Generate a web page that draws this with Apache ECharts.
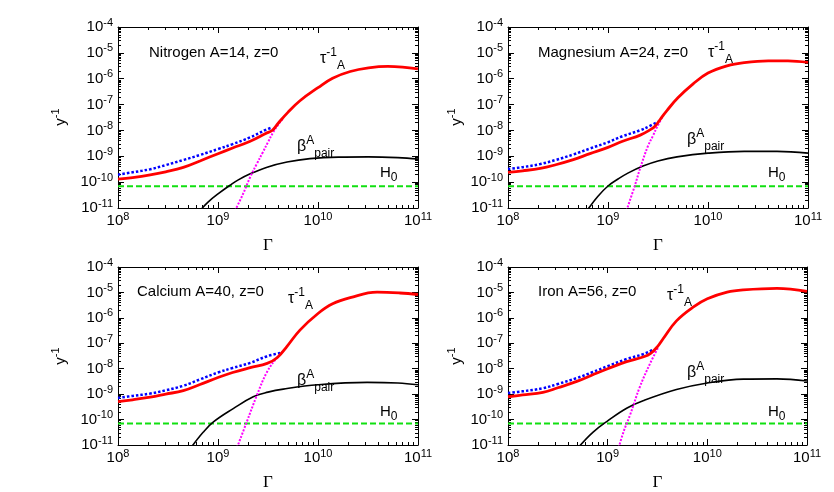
<!DOCTYPE html>
<html>
<head>
<meta charset="utf-8">
<script src="https://cdn.jsdelivr.net/npm/echarts@6/dist/echarts.min.js"></script>
<style>html,body{margin:0;padding:0;background:#fff}#c{width:834px;height:492px}</style>
</head>
<body>
<div id="c"></div>
<script>
// ---------------- data ----------------
const gammaMin = 1e8, gammaMax = 1e11;
const rateMin = 1e-11, rateMax = 1e-4;
const hubbleRate = 7e-11;                      // H0 in y^-1
const minorMultipliers = [2, 3, 4, 5, 6, 7, 8, 9];
const xDecades = [8, 9, 10];
const yDecades = [-11, -10, -9, -8, -7, -6, -5];

const panelTitles = ['Nitrogen A=14, z=0', 'Magnesium A=24, z=0', 'Calcium A=40, z=0', 'Iron A=56, z=0'];

// total inverse lifetime tau^-1_A (red)
const nitrogenTotal = [[1e8,1.32e-10],[1.4e8,1.51e-10],[2.1e8,1.91e-10],[3e8,2.51e-10],[4.5e8,3.72e-10],[6.6e8,6.6e-10],[1e9,1.26e-9],[1.4e9,2.09e-9],[2.1e9,3.8e-9],[3e9,7.6e-9],[3.5e9,1.02e-8],[4e9,1.9e-8],[5e9,5.0e-8],[6.6e9,1.41e-7],[1e10,4.5e-7],[1.4e10,1.05e-6],[2.1e10,1.9e-6],[3.2e10,2.63e-6],[5e10,3.0e-6],[7e10,2.82e-6],[1e11,2.4e-6]];
const magnesiumTotal = [[1e8,2.4e-10],[1.4e8,2.75e-10],[2.1e8,3.4e-10],[3e8,4.7e-10],[4.5e8,7.4e-10],[6.6e8,1.26e-9],[1e9,2.2e-9],[1.4e9,3.8e-9],[2.1e9,6.6e-9],[2.63e9,1.05e-8],[2.95e9,1.45e-8],[3.4e9,3.0e-8],[3.9e9,6.0e-8],[5e9,1.82e-7],[7.1e9,6.3e-7],[1e10,1.66e-6],[1.55e10,3.16e-6],[2.3e10,4.2e-6],[4e10,4.9e-6],[6.3e10,4.9e-6],[1e11,4.27e-6]];
const calciumTotal = [[1e8,5.1e-10],[1.4e8,6.0e-10],[2.1e8,7.6e-10],[3e8,1.0e-9],[4.5e8,1.38e-9],[6.6e8,2.4e-9],[1e9,4.5e-9],[1.4e9,7.1e-9],[2.1e9,1.1e-8],[3.1e9,1.62e-8],[3.9e9,2.7e-8],[4.9e9,7.6e-8],[6.6e9,3.3e-7],[1e10,1.48e-6],[1.4e10,3.55e-6],[2.1e10,6.2e-6],[3.9e10,1.02e-5],[6.6e10,9.5e-6],[1e11,8.3e-6]];
const ironTotal = [[1e8,7.9e-10],[1.4e8,9.3e-10],[2.24e8,1.17e-9],[3.16e8,1.78e-9],[4.9e8,3.16e-9],[7.1e8,5.8e-9],[1e9,1.0e-8],[1.55e9,1.9e-8],[2.3e9,2.95e-8],[2.7e9,4.0e-8],[3.16e9,7.4e-8],[3.6e9,1.51e-7],[4.9e9,7.6e-7],[7.2e9,2.63e-6],[1e10,5.6e-6],[1.58e10,1.02e-5],[2.3e10,1.26e-5],[5e10,1.45e-5],[1e11,1.1e-5]];

// blue dotted curve (low-Gamma part)
const nitrogenBlue = [[1e8,1.95e-10],[1.4e8,2.4e-10],[2.1e8,3.16e-10],[3e8,4.57e-10],[4.5e8,7.2e-10],[6.6e8,1.12e-9],[1e9,1.9e-9],[1.4e9,2.95e-9],[2.1e9,5.4e-9],[3e9,1.05e-8],[3.5e9,1.32e-8]];
const magnesiumBlue = [[1e8,3.2e-10],[1.4e8,3.8e-10],[2.1e8,5.0e-10],[3e8,7.2e-10],[4.5e8,1.17e-9],[6.6e8,2.0e-9],[1e9,3.5e-9],[1.4e9,6.0e-9],[2.1e9,1.02e-8],[2.63e9,1.5e-8],[3.16e9,2.2e-8]];
const calciumBlue = [[1e8,7.1e-10],[1.4e8,8.5e-10],[2.1e8,1.05e-9],[3e8,1.41e-9],[4.5e8,2.14e-9],[6.6e8,3.8e-9],[1e9,7.1e-9],[1.4e9,1.07e-8],[2.1e9,1.7e-8],[3.1e9,3.1e-8],[4.2e9,4.2e-8]];
const ironBlue = [[1e8,1.1e-9],[1.4e8,1.29e-9],[2.24e8,1.7e-9],[3.16e8,2.5e-9],[4.9e8,4.3e-9],[7.1e8,7.4e-9],[1e9,1.26e-8],[1.55e9,2.4e-8],[2.3e9,3.8e-8],[2.9e9,5.8e-8]];

// magenta dotted curve (steep rise)
const nitrogenSteep = [[1.48e9,7.9e-12],[1.78e9,3.5e-11],[2.1e9,1.58e-10],[2.45e9,5.2e-10],[2.8e9,1.41e-9],[3.16e9,3.5e-9],[3.55e9,8.3e-9],[4e9,1.66e-8],[4.5e9,3.0e-8]];
const magnesiumSteep = [[1.53e9,7.9e-12],[1.86e9,7.6e-11],[2.1e9,3.5e-10],[2.5e9,2.4e-9],[2.82e9,6.3e-9],[3.1e9,1.38e-8],[3.47e9,3.16e-8]];
const calciumSteep = [[1.55e9,7.9e-12],[1.94e9,8.1e-11],[2.44e9,8.7e-10],[3.07e9,7.1e-9],[3.86e9,2.63e-8],[4.5e9,5.0e-8]];
const ironSteep = [[1.29e9,7.9e-12],[1.45e9,3.5e-11],[1.67e9,1.45e-10],[2.1e9,1.9e-9],[2.66e9,1.58e-8],[3.23e9,7.1e-8]];

// black curve beta^A_pair
const nitrogenPair = [[6.8e8,8.9e-12],[7.9e8,1.66e-11],[1e9,3.5e-11],[1.32e9,7.6e-11],[1.58e9,1.2e-10],[2.1e9,2.1e-10],[3.1e9,3.8e-10],[4.9e9,6.0e-10],[8.3e9,8.1e-10],[1.6e10,9.3e-10],[3.2e10,9.5e-10],[6.3e10,8.9e-10],[1e11,7.9e-10]];
const magnesiumPair = [[6.3e8,8.9e-12],[7.9e8,2.8e-11],[1e9,7.1e-11],[1.26e9,1.32e-10],[1.58e9,2.24e-10],[2.24e9,4.2e-10],[3.16e9,6.6e-10],[4.9e9,9.5e-10],[1e10,1.32e-9],[2.3e10,1.55e-9],[4.9e10,1.55e-9],[1e11,1.32e-9]];
const calciumPair = [[5.5e8,8.9e-12],[7.1e8,3.16e-11],[9e8,8.1e-11],[1.42e9,2.7e-10],[2.25e9,7.9e-10],[3.16e9,1.2e-9],[4.5e9,1.58e-9],[1e10,2.34e-9],[3.1e10,2.9e-9],[6.3e10,2.75e-9],[1e11,2.34e-9]];
const ironPair = [[5.2e8,8.9e-12],[7.1e8,3.16e-11],[1e9,8.9e-11],[1.55e9,2.8e-10],[2.3e9,5.6e-10],[4.9e9,1.51e-9],[1e10,2.75e-9],[2.3e10,3.9e-9],[5e10,4.0e-9],[1e11,3.3e-9]];

const totals = [nitrogenTotal, magnesiumTotal, calciumTotal, ironTotal];
const blues = [nitrogenBlue, magnesiumBlue, calciumBlue, ironBlue];
const steeps = [nitrogenSteep, magnesiumSteep, calciumSteep, ironSteep];
const pairs = [nitrogenPair, magnesiumPair, calciumPair, ironPair];

// ---------------- layout / style ----------------
const FONT = '"Liberation Sans", Arial, sans-serif';
const SERIF = '"Liberation Serif", "Times New Roman", serif';
const gridRects = [
  {left: 118, top: 27, width: 300, height: 181},
  {left: 508, top: 27, width: 300, height: 181},
  {left: 118, top: 267, width: 300, height: 179},
  {left: 508, top: 267, width: 299, height: 179}
];
const titleOffsets = [[31, 26], [30, 26], [19, 25], [30, 25]];
const tauOffsets = [[202, 32], [200, 26], [170, 32], [159, 29]];
const betaOffsets = [[179, 120], [179, 113], [179, 114], [179, 106]];
const hOffsets = [[262, 146], [260, 146], [262, 145], [260, 145]];
const yTitlePos = [[61, 117], [457, 117], [61, 356], [457, 356]];
const MAJOR_LEN = 6, MINOR_LEN = 3;
const SMOOTH = 0.4;

const xMinor = [], yMinor = [];
xDecades.forEach(d => minorMultipliers.forEach(m => xMinor.push(d + Math.log10(m))));
yDecades.forEach(d => minorMultipliers.forEach(m => yMinor.push(d + Math.log10(m))));

function expLabel(v) { return '{b|10}{s|' + Math.round(Math.log10(v)) + '}'; }
const labelRich = {
  b: {fontSize: 15, fontFamily: FONT, color: '#000', lineHeight: 20},
  s: {fontSize: 11, fontFamily: FONT, color: '#000', lineHeight: 10, verticalAlign: 'top'}
};
const blackLine = {color: '#000', width: 1};

const xAxis = [], yAxis = [], series = [], graphic = [];
gridRects.forEach((r, i) => {
  const common = {gridIndex: i, splitLine: {show: false}, minorTick: {show: false}, minorSplitLine: {show: false}};
  xAxis.push(Object.assign({}, common, {
    type: 'log', logBase: 10, min: gammaMin, max: gammaMax, position: 'bottom',
    axisLine: {show: true, onZero: false, lineStyle: blackLine},
    axisTick: {show: true, inside: true, length: MAJOR_LEN, lineStyle: blackLine},
    axisLabel: {show: true, margin: 3, formatter: expLabel, rich: labelRich, showMinLabel: true, showMaxLabel: true},
    name: 'Γ', nameLocation: 'middle', nameGap: 29,
    nameTextStyle: {fontFamily: SERIF, fontSize: 17, color: '#000'}
  }));
  xAxis.push(Object.assign({}, common, {
    type: 'log', logBase: 10, min: gammaMin, max: gammaMax, position: 'top',
    axisLine: {show: true, onZero: false, lineStyle: blackLine},
    axisTick: {show: true, inside: true, length: MAJOR_LEN, lineStyle: blackLine},
    axisLabel: {show: false}
  }));
  ['bottom', 'top'].forEach(pos => xAxis.push(Object.assign({}, common, {
    type: 'value', min: 8, max: 11, position: pos,
    axisLine: {show: false, onZero: false},
    axisTick: {show: true, inside: true, length: MINOR_LEN, customValues: xMinor, lineStyle: blackLine},
    axisLabel: {show: false}
  })));

  yAxis.push(Object.assign({}, common, {
    type: 'log', logBase: 10, min: rateMin, max: rateMax, position: 'left',
    axisLine: {show: true, onZero: false, lineStyle: blackLine},
    axisTick: {show: true, inside: true, length: MAJOR_LEN, lineStyle: blackLine},
    axisLabel: {show: true, margin: 5, formatter: expLabel, rich: labelRich, showMinLabel: true, showMaxLabel: true}
  }));
  yAxis.push(Object.assign({}, common, {
    type: 'log', logBase: 10, min: rateMin, max: rateMax, position: 'right',
    axisLine: {show: true, onZero: false, lineStyle: blackLine},
    axisTick: {show: true, inside: true, length: MAJOR_LEN, lineStyle: blackLine},
    axisLabel: {show: false}
  }));
  ['left', 'right'].forEach(pos => yAxis.push(Object.assign({}, common, {
    type: 'value', min: -11, max: -4, position: pos,
    axisLine: {show: false, onZero: false},
    axisTick: {show: true, inside: true, length: MINOR_LEN, customValues: yMinor, lineStyle: blackLine},
    axisLabel: {show: false}
  })));

  const ax = {xAxisIndex: 4 * i, yAxisIndex: 4 * i, symbol: 'none', clip: true, animation: false, silent: true};
  series.push(Object.assign({}, ax, {type: 'line', data: [[gammaMin, hubbleRate], [gammaMax, hubbleRate]],
    lineStyle: {color: '#11e011', width: 2, type: [6, 3]}, z: 2}));
  series.push(Object.assign({}, ax, {type: 'line', data: pairs[i], smooth: SMOOTH,
    lineStyle: {color: '#000', width: 1.6}, z: 3}));
  series.push(Object.assign({}, ax, {type: 'line', data: blues[i], smooth: SMOOTH,
    lineStyle: {color: '#0000ff', width: 2.5, type: [2.5, 2]}, z: 4}));
  series.push(Object.assign({}, ax, {type: 'line', data: steeps[i], smooth: SMOOTH,
    lineStyle: {color: '#ff00ff', width: 2, type: [2, 1.5]}, z: 4}));
  series.push(Object.assign({}, ax, {type: 'line', data: totals[i], smooth: SMOOTH,
    lineStyle: {color: '#ff0000', width: 2.8}, z: 5}));

  // annotations
  graphic.push({type: 'text', x: r.left + titleOffsets[i][0], y: r.top + titleOffsets[i][1], z: 10,
    style: {text: panelTitles[i], font: '15px ' + FONT, fill: '#000', verticalAlign: 'middle'}});
  graphic.push({type: 'text', x: r.left + tauOffsets[i][0], y: r.top + tauOffsets[i][1], z: 10,
    style: {text: '{t|τ}{p|-1}{q|A}', verticalAlign: 'middle', fill: '#000', rich: {
      t: {fontSize: 16, fontFamily: FONT, lineHeight: 25, fill: '#000'},
      p: {fontSize: 12, fontFamily: FONT, lineHeight: 12, verticalAlign: 'top', fill: '#000'},
      q: {fontSize: 12, fontFamily: FONT, lineHeight: 12, verticalAlign: 'bottom', fill: '#000'}}}});
  graphic.push({type: 'text', x: r.left + betaOffsets[i][0], y: r.top + betaOffsets[i][1], z: 10,
    style: {text: '{t|β}{p|A}{q|pair}', verticalAlign: 'middle', fill: '#000', rich: {
      t: {fontSize: 16, fontFamily: FONT, lineHeight: 25, fill: '#000'},
      p: {fontSize: 12, fontFamily: FONT, lineHeight: 12, verticalAlign: 'top', fill: '#000'},
      q: {fontSize: 12, fontFamily: FONT, lineHeight: 12, verticalAlign: 'bottom', fill: '#000'}}}});
  graphic.push({type: 'text', x: r.left + hOffsets[i][0], y: r.top + hOffsets[i][1], z: 10,
    style: {text: '{t|H}{q|0}', verticalAlign: 'middle', fill: '#000', rich: {
      t: {fontSize: 15, fontFamily: FONT, lineHeight: 22, fill: '#000'},
      q: {fontSize: 12, fontFamily: FONT, lineHeight: 12, verticalAlign: 'bottom', fill: '#000'}}}});
  graphic.push({type: 'text', x: yTitlePos[i][0], y: yTitlePos[i][1], rotation: Math.PI / 2, z: 10,
    style: {text: '{t|y}{p|-1}', align: 'center', verticalAlign: 'middle', fill: '#000', rich: {
      t: {fontSize: 15, fontFamily: FONT, lineHeight: 22, fill: '#000'},
      p: {fontSize: 11, fontFamily: FONT, lineHeight: 10, verticalAlign: 'top', fill: '#000'}}}});
});

const chart = echarts.init(document.getElementById('c'), null, {renderer: 'canvas'});
chart.setOption({
  backgroundColor: '#fff',
  animation: false,
  grid: gridRects.map(r => Object.assign({show: false, containLabel: false}, r)),
  xAxis: xAxis,
  yAxis: yAxis,
  series: series,
  graphic: graphic
});
</script>
</body>
</html>
